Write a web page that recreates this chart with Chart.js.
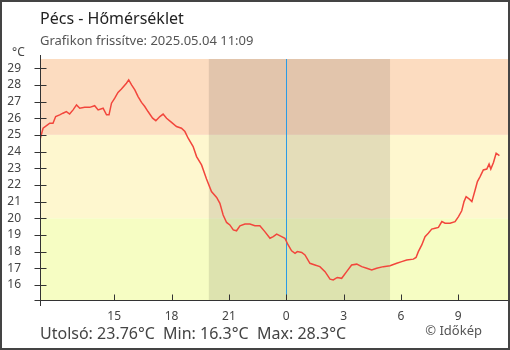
<!DOCTYPE html>
<html lang="hu">
<head>
<meta charset="utf-8">
<title>Pécs - Hőmérséklet</title>
<script src="https://cdn.jsdelivr.net/npm/chart.js"></script>
<style>
    html, body { margin: 0; padding: 0; background: #fff; }
    canvas { display: block; }
</style>
</head>
<body>
<canvas id="tempChart" width="510" height="350"></canvas>
<script>
// --- Data (hours relative to 2025.05.04 00:00) ---
const hours = [
    -12.86, -12.72, -12.54, -12.37, -12.20, -12.06, -11.85, -11.68, -11.50, -11.33,
    -11.15, -10.97, -10.80, -10.54, -10.28, -10.02, -9.84, -9.58, -9.40, -9.27,
    -9.14, -8.97, -8.80, -8.62, -8.36, -8.24, -8.09, -7.92, -7.75, -7.57,
    -7.40, -7.23, -6.99, -6.82, -6.61, -6.44, -6.26, -6.00, -5.74, -5.48,
    -5.30, -5.13, -4.87, -4.69, -4.43, -4.17, -3.91, -3.64, -3.47, -3.30,
    -3.12, -2.95, -2.77, -2.60, -2.42, -2.16, -1.90, -1.64, -1.38, -1.12,
    -0.85, -0.68, -0.50, -0.24, -0.07, 0.10, 0.28, 0.46, 0.58, 0.81,
    0.98, 1.24, 1.50, 1.76, 2.03, 2.29, 2.46, 2.67, 2.90, 3.16,
    3.42, 3.69, 3.95, 4.21, 4.47, 4.73, 5.08, 5.43, 5.78, 6.04,
    6.30, 6.65, 6.79, 6.91, 7.09, 7.26, 7.43, 7.61, 7.79, 7.96,
    8.14, 8.31, 8.57, 8.83, 9.01, 9.18, 9.30, 9.41, 9.58, 9.71,
    9.88, 10.00, 10.14, 10.31, 10.49, 10.61, 10.70, 10.84, 10.98, 11.15
];
const temps = [
    24.8, 25.4, 25.55, 25.7, 25.7, 26.1, 26.2, 26.3, 26.4, 26.25,
    26.5, 26.8, 26.6, 26.65, 26.65, 26.75, 26.5, 26.6, 26.2, 26.2,
    26.9, 27.2, 27.55, 27.75, 28.1, 28.3, 28.0, 27.7, 27.3, 26.95,
    26.7, 26.4, 26.0, 25.85, 26.1, 26.25, 26.0, 25.75, 25.5, 25.4,
    25.2, 24.8, 24.3, 23.7, 23.2, 22.35, 21.6, 21.25, 20.9, 20.2,
    19.75, 19.6, 19.3, 19.25, 19.55, 19.65, 19.65, 19.55, 19.55, 19.2,
    18.8, 18.9, 19.05, 18.9, 18.8, 18.4, 18.05, 17.9, 18.0, 17.95,
    17.8, 17.3, 17.2, 17.1, 16.8, 16.35, 16.3, 16.45, 16.4, 16.8,
    17.2, 17.25, 17.1, 17.0, 16.9, 17.0, 17.1, 17.15, 17.3, 17.4,
    17.5, 17.55, 17.65, 18.0, 18.4, 18.9, 19.1, 19.35, 19.4, 19.45,
    19.8, 19.7, 19.7, 19.8, 20.1, 20.45, 21.0, 21.3, 21.15, 21.0,
    21.7, 22.2, 22.5, 22.9, 22.95, 23.25, 22.95, 23.35, 23.9, 23.76
];

// --- Axis ticks ---
const xTickHours = [-9, -6, -3, 0, 3, 6, 9];
const xTickLabels = ['15', '18', '21', '0', '3', '6', '9'];
const yTickValues = [16, 17, 18, 19, 20, 21, 22, 23, 24, 25, 26, 27, 28, 29];

// --- Background zones ---
const bandLimits = [20, 25];             // temperature borders
const nightSpan = [-4.05, 5.43];         // sunset .. sunrise

// --- Texts ---
const titleText = 'Pécs - Hőmérséklet';
const subtitleText = 'Grafikon frissítve: 2025.05.04 11:09';
const footerParts = ['Utolsó: 23.76°C', 'Min: 16.3°C', 'Max: 28.3°C'];
const creditText = '© Időkép';

(function() {
    'use strict';

    const FONT = '"Noto Sans", "DejaVu Sans", sans-serif';
    const AXIS_COLOR = '#333';
    const TEXT_COLOR = '#444';

    // background bands + night shade + midnight line
    const backgroundPlugin = {
        id: 'zones',
        beforeDraw(chart) {
            const c = chart.ctx;
            c.save();
            c.fillStyle = '#fff';
            c.fillRect(0, 0, chart.width, chart.height);
            c.restore();
        },
        beforeDatasetsDraw(chart) {
            const { ctx: c, chartArea: a, scales } = chart;
            const y = scales.y, x = scales.x;
            const y20 = y.getPixelForValue(bandLimits[0]);
            const y25 = y.getPixelForValue(bandLimits[1]);
            c.save();
            c.fillStyle = '#fcdcc0';
            c.fillRect(a.left, a.top, a.right - a.left, y25 - a.top);
            c.fillStyle = '#fef7cf';
            c.fillRect(a.left, y25, a.right - a.left, y20 - y25);
            c.fillStyle = '#f6fdc3';
            c.fillRect(a.left, y20, a.right - a.left, a.bottom - y20);

            // night
            const n0 = x.getPixelForValue(nightSpan[0]);
            const n1 = x.getPixelForValue(nightSpan[1]);
            c.fillStyle = 'rgba(0,0,0,0.1)';
            c.fillRect(n0, a.top, n1 - n0, a.bottom - a.top);

            // midnight
            const mx = Math.round(x.getPixelForValue(0)) + 0.5;
            c.strokeStyle = '#2a9be6';
            c.lineWidth = 1;
            c.beginPath();
            c.moveTo(mx, a.top);
            c.lineTo(mx, a.bottom);
            c.stroke();
            c.restore();
        },
        afterDraw(chart) {
            const { ctx: c, chartArea: a, scales } = chart;
            c.save();
            c.strokeStyle = AXIS_COLOR;
            c.lineWidth = 1;

            // axes
            const ax = Math.round(a.left) + 0.5;
            const ay = Math.round(a.bottom) + 0.5;
            c.beginPath();
            c.moveTo(ax, a.top - 4);
            c.lineTo(ax, a.bottom + 6);
            c.moveTo(ax - 6, ay);
            c.lineTo(a.right, ay);
            // y ticks crossing the axis
            yTickValues.forEach(v => {
                const py = Math.round(scales.y.getPixelForValue(v)) + 0.5;
                c.moveTo(ax - 6, py);
                c.lineTo(ax + 6, py);
            });
            // x ticks inside the plot
            xTickHours.forEach(v => {
                const px = Math.round(scales.x.getPixelForValue(v)) + 0.5;
                c.moveTo(px, ay - 6);
                c.lineTo(px, ay);
            });
            c.stroke();

            // texts
            c.textBaseline = 'alphabetic';
            c.textAlign = 'left';
            c.fillStyle = '#222';
            c.font = '16px ' + FONT;
            c.fillText(titleText, 40, 24);
            c.fillStyle = '#555';
            c.font = '13px ' + FONT;
            c.fillText(subtitleText, 40, 45);
            c.fillStyle = TEXT_COLOR;
            c.font = '12px ' + FONT;
            c.fillText('°C', 12, 56);

            c.font = '16px ' + FONT;
            c.fillText(footerParts[0], 40, 339);
            c.fillText(footerParts[1], 163, 339);
            c.fillText(footerParts[2], 257, 339);

            c.fillStyle = '#555';
            c.font = '13px ' + FONT;
            c.textAlign = 'right';
            c.fillText(creditText, 482, 335);

            // frame
            c.strokeStyle = '#444';
            c.lineWidth = 2;
            c.strokeRect(1, 1, chart.width - 2, chart.height - 2);
            c.restore();
        }
    };

    function initChart() {
        const ctx = document.getElementById('tempChart').getContext('2d');
        Chart.defaults.font.family = FONT;

        new Chart(ctx, {
            type: 'line',
            data: {
                datasets: [{
                    label: 'Hőmérséklet',
                    data: hours.map((h, i) => ({ x: h, y: temps[i] })),
                    borderColor: '#f2463c',
                    borderWidth: 1.5,
                    pointRadius: 0,
                    tension: 0,
                    fill: false
                }]
            },
            options: {
                responsive: false,
                animation: false,
                devicePixelRatio: 1,
                layout: { padding: { top: 59, left: 0, right: 2, bottom: 0 } },
                plugins: {
                    legend: { display: false },
                    tooltip: { enabled: false }
                },
                scales: {
                    x: {
                        type: 'linear',
                        min: -12.88,
                        max: 11.6,
                        grid: { display: false, drawTicks: false },
                        border: { display: false },
                        afterBuildTicks: scale => {
                            scale.ticks = xTickHours.map(v => ({ value: v }));
                        },
                        afterFit: scale => { scale.height = 50; },
                        ticks: {
                            autoSkip: false,
                            maxRotation: 0,
                            padding: 9,
                            color: TEXT_COLOR,
                            font: { size: 12 },
                            callback: v => xTickLabels[xTickHours.indexOf(v)]
                        }
                    },
                    y: {
                        min: 15.1,
                        max: 29.55,
                        grid: { display: false, drawTicks: false },
                        border: { display: false },
                        afterBuildTicks: scale => {
                            scale.ticks = yTickValues.map(v => ({ value: v }));
                        },
                        afterFit: scale => { scale.width = 40; },
                        ticks: {
                            autoSkip: false,
                            padding: 19,
                            color: TEXT_COLOR,
                            font: { size: 12 }
                        }
                    }
                }
            },
            plugins: [backgroundPlugin]
        });
    }

    // --- Run ---
    if (document.readyState === 'loading') {
        document.addEventListener('DOMContentLoaded', initChart);
    } else {
        initChart();
    }
})();
</script>
</body>
</html>
